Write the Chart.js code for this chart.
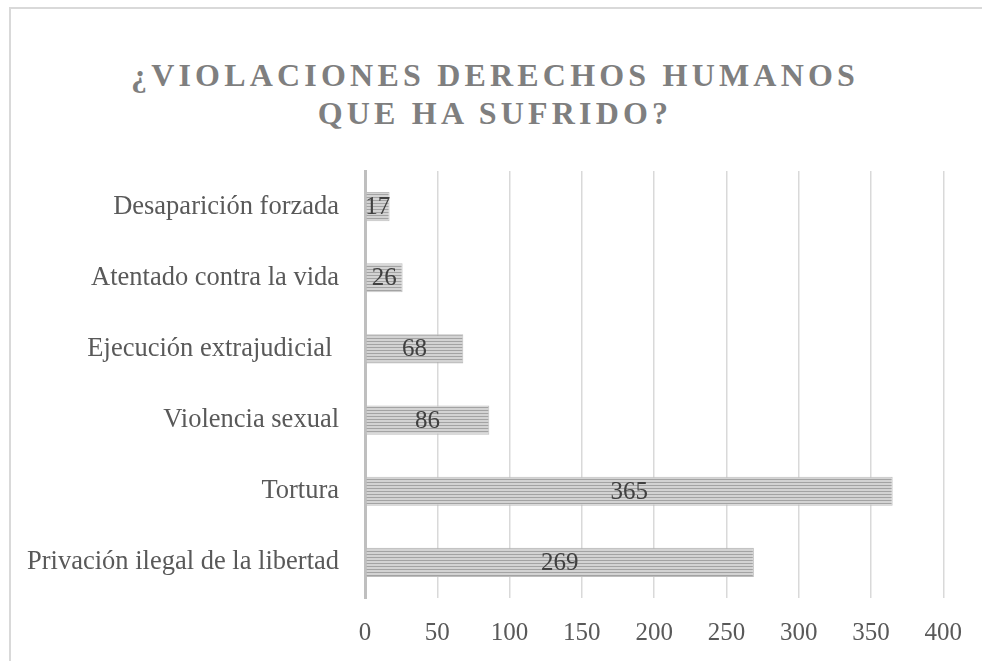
<!DOCTYPE html>
<html>
<head>
<meta charset="utf-8">
<script src="https://cdn.jsdelivr.net/npm/chart.js@4/dist/chart.umd.min.js"></script>
<style>
  html, body { margin: 0; padding: 0; background: #fff; overflow: hidden; }
  #wrap { position: relative; width: 982px; height: 661px; }
  #frame {
    position: absolute; left: 9px; top: 7px; width: 1000px; height: 700px;
    border-top: 2px solid #d9d9d9; border-left: 2px solid #d9d9d9;
  }
  #title {
    position: absolute; left: 0; top: 56px; width: 990px; text-align: center;
    font-family: "Liberation Serif", serif; font-weight: bold; font-size: 32px;
    letter-spacing: 4.2px; line-height: 38px; color: #7f7f7f;
  }
  canvas { position: absolute; left: 0; top: 0; }
</style>
</head>
<body>
<div id="wrap">
  <div id="frame"></div>
  <div id="title">¿VIOLACIONES DERECHOS HUMANOS<br>QUE HA SUFRIDO?</div>
  <canvas id="chart" width="982" height="661"></canvas>
</div>
<script>
// datos del grafico
const categorias = [
  "Desaparición forzada",
  "Atentado contra la vida",
  "Ejecución extrajudicial ",
  "Violencia sexual",
  "Tortura",
  "Privación ilegal de la libertad"
];
const valores = [17, 26, 68, 86, 365, 269];
const ticksX = [0, 50, 100, 150, 200, 250, 300, 350, 400];

// patron de rayas horizontales para las barras
function rayas() {
  const c = document.createElement("canvas");
  c.width = 4; c.height = 3;
  const g = c.getContext("2d");
  g.fillStyle = "#d3d3d3";
  g.fillRect(0, 0, 4, 3);
  g.fillStyle = "#a3a3a3";
  g.fillRect(0, 2, 4, 1);
  return g.createPattern(c, "repeat");
}

const etiquetas = {
  id: "etiquetas",
  afterDatasetsDraw(chart) {
    const { ctx } = chart;
    const meta = chart.getDatasetMeta(0);
    ctx.save();
    ctx.font = "25px 'Liberation Serif', serif";
    ctx.fillStyle = "#404040";
    ctx.textAlign = "center";
    ctx.textBaseline = "middle";
    meta.data.forEach((bar, i) => {
      const x = (bar.x + bar.base) / 2;
      ctx.fillText(String(valores[i]), x, bar.y + 1);
    });
    ctx.restore();
  }
};

const ctx = document.getElementById("chart").getContext("2d");
new Chart(ctx, {
  type: "bar",
  data: {
    labels: categorias,
    datasets: [{
      data: valores,
      backgroundColor: rayas(),
      borderColor: "#bdbdbd",
      borderWidth: 1,
      borderSkipped: false,
      barPercentage: 0.41,
      categoryPercentage: 1
    }]
  },
  options: {
    indexAxis: "y",
    responsive: false,
    animation: false,
    layout: { padding: { top: 171, right: 36, left: 0, bottom: 0 } },
    plugins: {
      legend: { display: false },
      tooltip: { enabled: false },
      title: { display: false }
    },
    scales: {
      x: {
        min: 0,
        max: 400,
        afterBuildTicks: (s) => { s.ticks = ticksX.map(v => ({ value: v })); },
        afterFit: (s) => { s.height = 63; },
        grid: { color: "#d9d9d9", lineWidth: 1.5, drawTicks: false },
        border: { display: false },
        ticks: {
          padding: 20,
          color: "#595959",
          font: { family: "'Liberation Serif', serif", size: 25 }
        }
      },
      y: {
        afterFit: (s) => { s.width = 365; },
        grid: { display: false },
        border: { color: "#bfbfbf", width: 3 },
        ticks: {
          padding: 18,
          color: "#595959",
          font: { family: "'Liberation Serif', serif", size: 26.5 }
        }
      }
    }
  },
  plugins: [etiquetas]
});
</script>
</body>
</html>
